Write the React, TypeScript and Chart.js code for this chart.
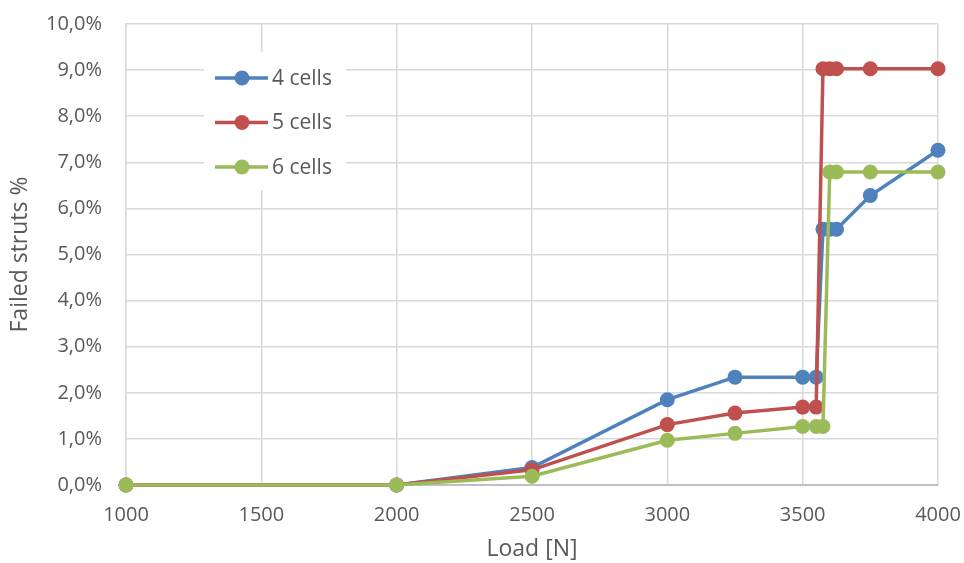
import React, { useEffect, useRef } from "react";
import { Chart, registerables } from "chart.js";

Chart.register(...registerables);

const loads = [1000, 2000, 2500, 3000, 3250, 3500, 3550, 3575, 3600, 3625, 3750, 4000];
const cells4 = [0, 0, 0.38, 1.85, 2.34, 2.34, 2.34, 5.55, 5.55, 5.55, 6.28, 7.26];
const cells5 = [0, 0, 0.33, 1.31, 1.56, 1.69, 1.69, 9.03, 9.03, 9.03, 9.03, 9.03];
const cells6 = [0, 0, 0.19, 0.97, 1.12, 1.27, 1.27, 1.27, 6.79, 6.79, 6.79, 6.79];
const seriesNames = ["4 cells", "5 cells", "6 cells"];
const seriesColors = ["#4F81BD", "#C0504D", "#9BBB59"];
const yTickMin = 0;
const yTickMax = 10;
const xTickMin = 1000;
const xTickMax = 4000;

const FONT = "'Open Sans', 'Noto Sans', sans-serif";
const TEXT = "#595959";

const toPoints = (vals: number[]) => vals.map((y, i) => ({ x: loads[i], y }));

const legendPlugin = {
  id: "insideLegend",
  afterDraw(chart: any) {
    const ctx = chart.ctx;
    ctx.save();
    ctx.fillStyle = "#ffffff";
    ctx.fillRect(204, 52, 142, 138);
    chart.data.datasets.forEach((ds: any, i: number) => {
      const y = 78 + i * 44.5;
      ctx.strokeStyle = ds.borderColor;
      ctx.lineWidth = 3.5;
      ctx.beginPath();
      ctx.moveTo(215, y);
      ctx.lineTo(268, y);
      ctx.stroke();
      ctx.fillStyle = ds.backgroundColor;
      ctx.beginPath();
      ctx.arc(242, y, 7.5, 0, Math.PI * 2);
      ctx.fill();
      ctx.fillStyle = TEXT;
      ctx.font = `21px ${FONT}`;
      ctx.textBaseline = "middle";
      ctx.textAlign = "left";
      ctx.fillText(ds.label, 272, y + 1);
    });
    ctx.restore();
  },
};

export default function App() {
  const ref = useRef<HTMLCanvasElement>(null);
  useEffect(() => {
    document.body.style.margin = "0";
    const series = [cells4, cells5, cells6];
    const chart = new Chart(ref.current!, {
      type: "line",
      data: {
        datasets: series.map((vals, i) => ({
          label: seriesNames[i],
          data: toPoints(vals),
          borderColor: seriesColors[i],
          backgroundColor: seriesColors[i],
          borderWidth: 3.5,
          pointRadius: 7.5,
          pointHoverRadius: 7.5,
          pointBorderWidth: 0,
          tension: 0,
          clip: false,
          order: series.length - i,
        })),
      },
      options: {
        animation: false,
        responsive: false,
        layout: { padding: { left: 0, right: 26, top: 24, bottom: 0 } },
        plugins: { legend: { display: false }, tooltip: { enabled: false } },
        scales: {
          x: {
            type: "linear",
            min: xTickMin,
            max: xTickMax,
            afterFit: (s: any) => {
              s.height = 78;
              s.paddingLeft = 0;
              s.paddingRight = 0;
            },
            grid: { color: "#D9D9D9", lineWidth: 1.5, drawTicks: false },
            border: { color: "#BFBFBF", width: 2 },
            ticks: {
              stepSize: 500,
              padding: 18,
              color: TEXT,
              font: { family: FONT, size: 20 },
              maxRotation: 0,
              callback: (v: any) => String(v),
            },
            title: {
              display: true,
              text: "Load [N]",
              color: TEXT,
              font: { family: FONT, size: 23 },
              padding: { top: 0, bottom: 0 },
            },
          },
          y: {
            min: yTickMin,
            max: yTickMax,
            afterFit: (s: any) => {
              s.width = 126;
              s.paddingTop = 0;
              s.paddingBottom = 0;
            },
            grid: { color: "#D9D9D9", lineWidth: 1.5, drawTicks: false },
            border: { color: "#D9D9D9", width: 1.5 },
            ticks: {
              stepSize: 1,
              padding: 24,
              color: TEXT,
              font: { family: FONT, size: 20 },
              callback: (v: any) => Number(v).toFixed(1).replace(".", ",") + "%",
            },
            title: {
              display: true,
              text: "Failed struts %",
              color: TEXT,
              font: { family: FONT, size: 23 },
              padding: { top: 7, bottom: 0 },
            },
          },
        },
      },
      plugins: [legendPlugin],
    } as any);
    return () => chart.destroy();
  }, []);
  return (
    <div style={{ width: 964, height: 563, background: "#fff" }}>
      <canvas ref={ref} width={964} height={563} />
    </div>
  );
}
